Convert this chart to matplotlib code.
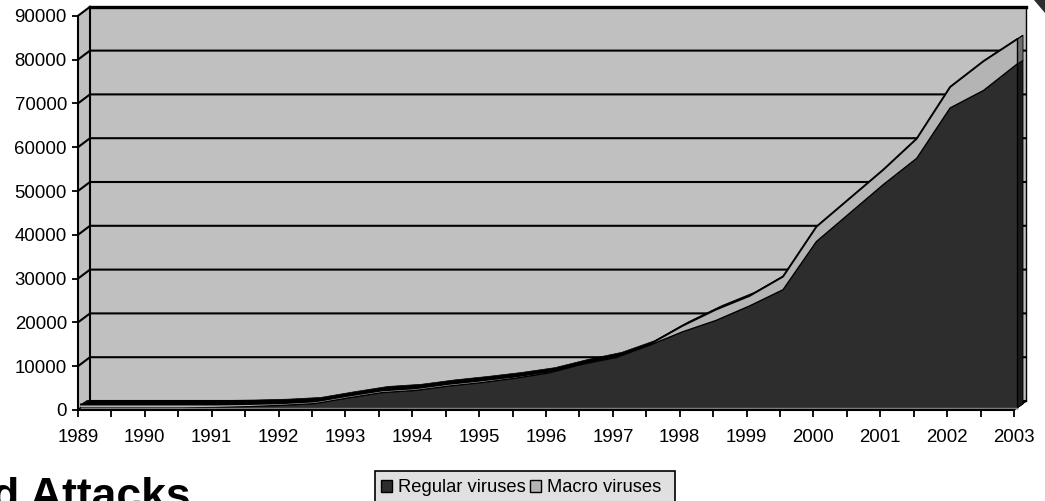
import matplotlib.pyplot as plt
from matplotlib.patches import Patch, Polygon
import numpy as np

plt.rcParams["font.family"] = ["Liberation Sans", "DejaVu Sans"]

W, H = 1045, 501

years = np.arange(1989, 2003.5, 0.5)
regular = [0, 0, 0, 0, 100, 300, 600, 1000, 2300, 3500,
           4000, 5000, 5800, 6800, 8000, 10000, 11500, 14300, 17400, 20000,
           23300, 27000, 38000, 44500, 51000, 57000, 68500, 72500, 78500]
macro = [800, 800, 800, 800, 700, 600, 500, 500, 500, 500,
         500, 500, 500, 400, 300, 200, 300, 200, 1400, 2500,
         2300, 3000, 3400, 3400, 3400, 4500, 4800, 6700, 5700]
labels = ["Regular viruses", "Macro viruses"]
year_ticks = np.arange(1989, 2004)
value_ticks = np.arange(0, 100000, 10000)
value_gridlines = np.arange(10000, 90000, 10000)

# pixel scale of the front plane
PX_X = 936 / 14
PX_Y = 43.8 / 10000
X0, Y0 = 78, 410

DARK = "#2d2d2d"
WALL = "#c0c0c0"
BAND = "#b4b4b4"
FLOOR = "#808080"

fig = plt.figure(figsize=(W / 100, H / 100), dpi=100)
ax = fig.add_axes([0, 0, 1, 1])
ax.set_xlim(1989 - X0 / PX_X, 1989 + (W - X0) / PX_X)
ax.set_ylim(-(H - Y0) / PX_Y, Y0 / PX_Y)
ax.patch.set_visible(False)


def shift(x, y, dx, dy):
    # move data points by an offset in pixels (dy up)
    return np.asarray(x) + dx / PX_X, np.asarray(y) + dy / PX_Y


def px(x, y):
    return 1989 + (x - X0) / PX_X, (Y0 - y) / PX_Y


lw = 1.5
DEPTH = (12, 9)
x_l, x_r, y_t = 1989, 2003, 90000

# back wall, side wall and floor
wall = [shift(x_l, 0, *DEPTH), shift(x_r, 0, *DEPTH), shift(x_r, y_t, *DEPTH), shift(x_l, y_t, *DEPTH)]
ax.add_patch(Polygon(wall, fc=WALL, ec="none", zorder=1))
side = [(x_l, 0), shift(x_l, 0, *DEPTH), shift(x_l, y_t, *DEPTH), (x_l, y_t)]
ax.add_patch(Polygon(side, fc=WALL, ec="none", zorder=1))
floor = [(x_l, 0), (x_r, 0), shift(x_r, 0, *DEPTH), shift(x_l, 0, *DEPTH)]
ax.add_patch(Polygon(floor, fc=FLOOR, ec="none", zorder=1))

# wall edges
bx, by = shift(x_l, y_t, *DEPTH)
ax.plot([bx, bx], [shift(0, 0, *DEPTH)[1], by], color="k", lw=lw, zorder=2)
ax.plot([bx, shift(x_r, 0, *DEPTH)[0]], [by, by], color="k", lw=2.4, zorder=2)
rx = shift(x_r, 0, *DEPTH)[0]
ax.plot([rx, rx], [shift(0, 0, *DEPTH)[1], by], color="k", lw=1, zorder=2)
ax.plot([x_l, bx], [y_t, by], color="k", lw=lw, zorder=2)
ax.plot([x_r, rx], [0, shift(0, 0, *DEPTH)[1]], color="k", lw=1, zorder=2)

# gridlines, wrapping from the side wall on to the back wall
for v in value_gridlines:
    _, gy = shift(0, v, *DEPTH)
    ax.plot([x_l, bx, rx], [v, gy, gy], color="k", lw=lw, zorder=2)
_, fy = shift(0, 0, *DEPTH)
ax.plot([x_l, bx, rx], [0, fy, fy], color="k", lw=lw, zorder=2)

# floor ticks
for x in years:
    sx, sy = shift(x, 0, *DEPTH)
    ax.plot([x, sx], [0, sy], color="k", lw=1, zorder=2)

# stacked area, set a little way into the depth
FRONT = (3, 2)
BACK = (9, 6)
reg = np.array(regular, dtype=float)
total = reg + np.array(macro, dtype=float)

fx, ft = shift(years, total, *FRONT)
bx2, bt = shift(years, total, *BACK)
fx_r, fr = shift(years, reg, *FRONT)
_, f0 = shift(years, np.zeros_like(reg), *FRONT)
_, b0 = shift(years, np.zeros_like(reg), *BACK)

# right end of the area
ax.add_patch(Polygon([(fx[-1], f0[-1]), (bx2[-1], b0[-1]), (bx2[-1], shift(0, reg[-1], *BACK)[1]), (fx[-1], fr[-1])],
                     fc="#1a1a1a", ec="k", lw=0.6, zorder=3))
ax.add_patch(Polygon([(fx[-1], fr[-1]), (bx2[-1], shift(0, reg[-1], *BACK)[1]), (bx2[-1], bt[-1]), (fx[-1], ft[-1])],
                     fc="#6e6e6e", ec="k", lw=0.6, zorder=3))

# top surface of the stack
ax.fill(np.r_[fx, bx2[::-1]], np.r_[ft, bt[::-1]], fc="k", ec="k", lw=0.5, zorder=3)
ax.fill(np.r_[fx, fx_r[::-1]], np.r_[ft, fr[::-1]], fc=BAND, ec="none", zorder=4)
ax.plot(fx, ft, color="k", lw=1.4, zorder=5)
ax.fill_between(fx_r, f0, fr, fc=DARK, ec="none", zorder=5)
ax.plot(fx_r, fr, color="k", lw=1, zorder=6)
ax.plot([fx_r[-1], fx_r[-1]], [f0[-1], ft[-1]], color="k", lw=1, zorder=6)
ax.plot([fx_r[0], fx_r[-1]], [f0[0], f0[-1]], color=FLOOR, lw=1, zorder=6)

# front axes
for s in ["top", "right"]:
    ax.spines[s].set_visible(False)
ax.spines["left"].set_position(("data", 1989))
ax.spines["bottom"].set_position(("data", 0))
ax.spines["left"].set_bounds(0, 90000)
ax.spines["bottom"].set_bounds(1989, 2003)
ax.spines["left"].set_linewidth(lw)
ax.spines["bottom"].set_linewidth(lw)
ax.spines["left"].set_zorder(7)
ax.spines["bottom"].set_zorder(7)
ax.set_xticks(year_ticks)
ax.set_xticks(years, minor=True)
ax.set_yticks(value_ticks)
ax.tick_params(axis="x", which="both", length=5, width=1.3, pad=8.5, labelsize=13.4)
ax.tick_params(axis="y", length=4, width=1.3, pad=4, labelsize=13.4)
ax.set_xticklabels([str(y) for y in year_ticks])
ax.set_yticklabels([str(v) for v in value_ticks])

# leftovers of the slide around the chart
tx, ty = px(-8, 509)
ax.text(tx, ty, "d Attacks", fontsize=32, fontweight="bold", ha="left", va="baseline", color="k")
ax.add_patch(Polygon([px(1034, 0), px(1045, 0), px(1045, 13)], fc=DARK, ec="none", zorder=8))

# legend box runs off the bottom of the picture
ax.add_patch(Polygon([px(375, 471), px(675, 471), px(675, 520), px(375, 520)],
                     fc="#e0e0e0", ec="k", lw=1.2, zorder=8))
handles = [Patch(fc=DARK, ec="k", lw=1), Patch(fc=BAND, ec="k", lw=1)]
leg = ax.legend(handles, labels, loc="upper left", bbox_to_anchor=(375 / W, 1 - 473 / H), ncol=2,
                fontsize=13.2, frameon=False, borderaxespad=0, borderpad=0.35, handlelength=0.6,
                handleheight=0.6, handletextpad=0.3, columnspacing=0.25)
leg.set_zorder(9)

fig.savefig("out.png", dpi=100)
